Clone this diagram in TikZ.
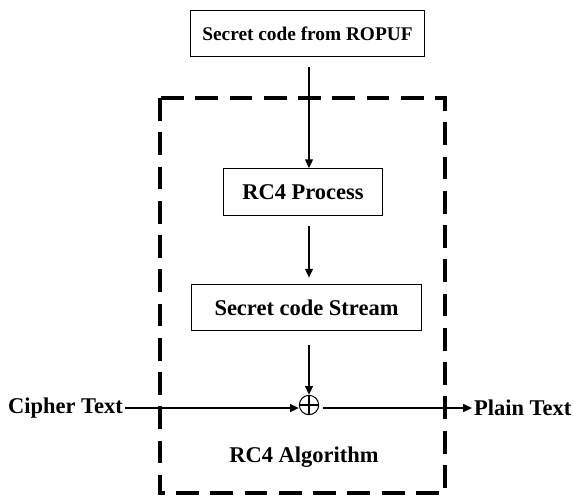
\documentclass[tikz,border=0pt]{standalone}
\usepackage{fontspec}
\setmainfont{Liberation Serif}
\usetikzlibrary{arrows.meta}

\tikzset{
    block/.style={draw, line width=0.6pt, minimum height=26.6pt, font=\fontsize{12.8}{15}\selectfont\bfseries},
    lbl/.style={font=\fontsize{12.8}{15}\selectfont\bfseries, inner sep=1pt},
    flow/.style={-{Triangle[length=5pt,width=4.5pt]}, line width=0.8pt},
    algbox/.style={line width=1.8pt, dash pattern=on 13pt off 6.5pt}
}

\begin{document}
\begin{tikzpicture}[x=0.02cm,y=-0.02cm]
    \useasboundingbox (0,0) rectangle (574,495);

    % Dashed frame of the algorithm
    \draw [algbox] (160,98) rectangle (445,493);
    \node[lbl] (alg) at (304,457) {RC4 Algorithm};

    % Blocks
    \node[block, minimum width=235*0.567pt, font=\fontsize{11}{13}\selectfont\bfseries] (key) at (307.5,33.5) {Secret code from ROPUF};
    \node[block, minimum width=159*0.567pt] (proc) at (303,192) {RC4 Process};
    \node[block, minimum width=231*0.567pt] (stream) at (306.5,307.5) {Secret code Stream};

    % XOR
    \node[circle, draw, line width=0.6pt, minimum size=11pt, inner sep=0pt,
        path picture={\draw[line width=0.6pt] (path picture bounding box.north) -- (path picture bounding box.south)
            (path picture bounding box.west) -- (path picture bounding box.east);}] (xor) at (309,405) {};

    % Inputs and outputs
    \node[lbl, anchor=west] (cipher) at (6,408) {Cipher Text};
    \node[lbl, anchor=west] (plain) at (472,408) {Plain Text};

    % Arrows
    \draw [flow] ([yshift=-10*0.567pt]key.south -| xor) -- (proc.north -| xor);
    \draw [flow] ([yshift=-10*0.567pt]proc.south -| xor) -- ([yshift=6*0.567pt]stream.north -| xor);
    \draw [flow] ([yshift=-14*0.567pt]stream.south -| xor) -- (xor.north);
    \draw [flow] (cipher.east) -- (cipher.east -| xor.west);
    \draw [flow] ([xshift=4*0.567pt]xor.east |- plain.west) -- (plain.west);

\end{tikzpicture}
\end{document}
